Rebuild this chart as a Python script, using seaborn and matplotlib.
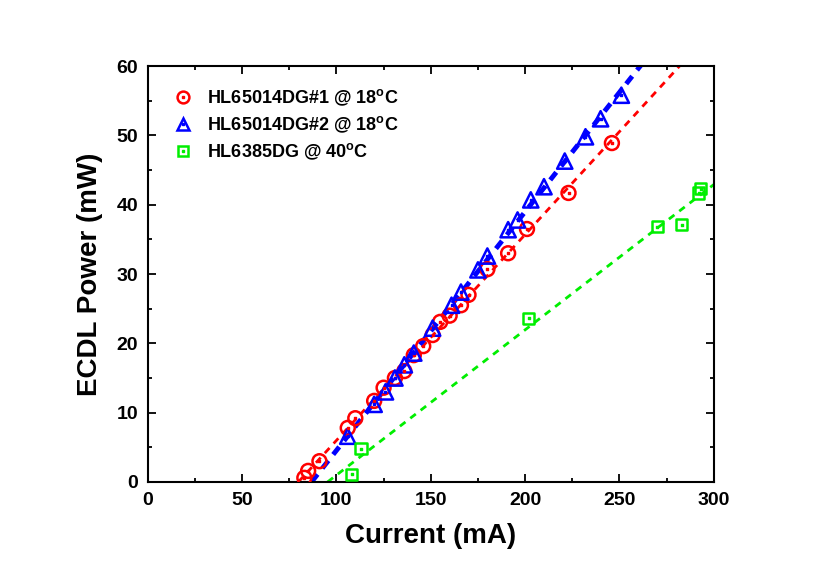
import numpy as np
import seaborn as sns
import matplotlib.pyplot as plt
from matplotlib.lines import Line2D

sns.set_style("ticks")
plt.rcParams['font.family'] = ['Liberation Sans', 'DejaVu Sans']
plt.rcParams['font.weight'] = 'bold'
plt.rcParams['text.color'] = 'black'
plt.rcParams['axes.labelcolor'] = 'black'
plt.rcParams['xtick.color'] = 'black'
plt.rcParams['ytick.color'] = 'black'
plt.rcParams['axes.edgecolor'] = 'black'

# HL65014DG#1 @ 18C
cur1 = [83, 85, 91, 106, 110, 120, 125, 131, 136, 141, 146, 151, 155, 160, 166, 170, 180, 191, 201, 223, 246]
pow1 = [0.6, 1.6, 3.0, 7.8, 9.2, 11.7, 13.6, 15.0, 16.0, 18.3, 19.6, 21.2, 23.1, 24.0, 25.5, 27.0, 30.7, 33.0, 36.5, 41.7, 48.9]
# HL65014DG#2 @ 18C
cur2 = [106, 120, 126, 131, 136, 141, 151, 161, 166, 175, 180, 191, 196, 203, 210, 221, 232, 240, 251]
pow2 = [6.6, 11.2, 13.0, 15.0, 16.9, 18.6, 22.2, 25.5, 27.4, 30.6, 32.6, 36.4, 37.8, 40.7, 42.6, 46.3, 49.8, 52.4, 55.8]
# HL6385DG @ 40C
cur3 = [108, 113, 202, 270, 283, 292, 293]
pow3 = [1.1, 4.8, 23.6, 36.8, 37.1, 41.7, 42.3]

fig, ax = plt.subplots(figsize=(8.3, 5.8), dpi=100)
fig.subplots_adjust(left=0.178, right=0.860, top=0.886, bottom=0.169)

deg = '$^{\\mathregular{o}}$'
series = [
    (cur1, pow1, 'red', 'o', 'HL65014DG#1 @ 18' + deg + 'C', 2.0, 10),
    (cur2, pow2, 'blue', '^', 'HL65014DG#2 @ 18' + deg + 'C', 3.5, 11),
    (cur3, pow3, '#00ee00', 's', 'HL6385DG @ 40' + deg + 'C', 2.0, 8),
]
handles, labels = [], []
for x, y, c, m, lab, lw, ms in series:
    k, b = np.polyfit(x, y, 1)
    x0 = -b / k
    xl = np.linspace(x0, 300, 50)
    sns.lineplot(x=xl, y=k * xl + b, ax=ax, color=c, lw=lw, ls=(0, (2.5, 2.2)) if lw < 3 else (0, (2, 1.6)))
    sns.scatterplot(x=x, y=y, ax=ax, marker=m, s=ms ** 2, facecolor='none',
                    edgecolor=c, linewidth=1.8, zorder=3, legend=False)
    ax.scatter(x, y, marker='s', s=3, color=c, zorder=4)
    h1 = Line2D([], [], ls='none', marker=m, ms=ms * 0.85, mfc='none', mec=c, mew=1.8)
    h2 = Line2D([], [], ls='none', marker='s', ms=1.8, color=c)
    handles.append((h1, h2))
    labels.append(lab)

ax.set_xlim(0, 300)
ax.set_ylim(0, 60)
ax.set_xticks(range(0, 301, 50))
ax.set_yticks(range(0, 61, 10))
ax.set_xticks(range(0, 301, 25), minor=True)
ax.set_yticks(range(0, 61, 5), minor=True)
ax.tick_params(which='both', direction='in', top=True, right=True, labelsize=14, width=1.3)
ax.tick_params(which='major', length=6, pad=7)
ax.tick_params(which='minor', length=3)
for s in ax.spines.values():
    s.set_linewidth(1.5)
ax.set_xlabel('Current (mA)', fontsize=20, fontweight='bold', labelpad=10)
ax.set_ylabel('ECDL Power (mW)', fontsize=20, fontweight='bold', labelpad=10)
ax.legend(handles, labels, loc='upper left', frameon=False, fontsize=13, handletextpad=0.6,
          borderaxespad=0.8, labelspacing=0.35, handlelength=1.5)
plt.savefig('out.png')
